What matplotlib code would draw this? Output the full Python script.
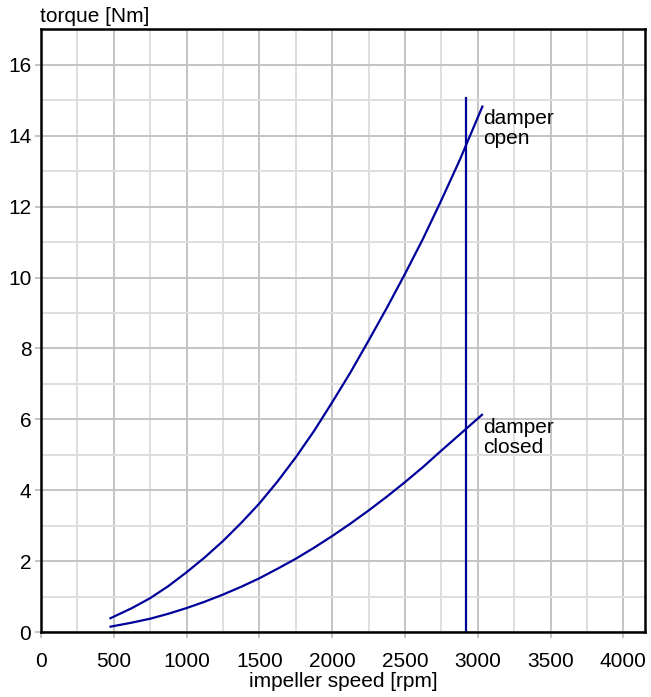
import numpy as np
import matplotlib.pyplot as plt

plt.rcParams['font.family'] = ['Liberation Sans', 'DejaVu Sans']

# impeller speed [rpm] / torque [Nm]
speed = [470, 625, 750, 875, 1000, 1125, 1250, 1375, 1500, 1625, 1750,
         1875, 2000, 2125, 2250, 2375, 2500, 2625, 2750, 2875, 3035]
torque_open = [0.38, 0.68, 0.96, 1.3, 1.69, 2.11, 2.57, 3.08, 3.63, 4.25, 4.93,
               5.67, 6.48, 7.32, 8.22, 9.14, 10.1, 11.1, 12.18, 13.3, 14.85]
torque_closed = [0.15, 0.27, 0.38, 0.52, 0.68, 0.86, 1.06, 1.28, 1.52, 1.79, 2.07,
                 2.38, 2.71, 3.06, 3.43, 3.82, 4.23, 4.66, 5.12, 5.57, 6.15]
speed_limit = 2920
limit_top = 15.1

line_color = '#00009a'
fs = 15

fig = plt.figure(figsize=(6.51, 6.97), dpi=100)
ax = fig.add_axes([0.063, 0.093, 0.928, 0.865])

ax.plot(speed, torque_open, color=line_color, lw=1.6, solid_capstyle='butt')
ax.plot(speed, torque_closed, color=line_color, lw=1.6, solid_capstyle='butt')
ax.plot([speed_limit, speed_limit], [0, limit_top], color=line_color, lw=1.6,
        solid_capstyle='butt')

ax.text(speed[-1] + 5, torque_open[-1] - 0.1, 'damper\nopen', fontsize=fs,
        va='top', ha='left', linespacing=1.05)
ax.text(speed[-1] + 5, torque_closed[-1] - 0.12, 'damper\nclosed', fontsize=fs,
        va='top', ha='left', linespacing=1.05)

ax.set_xlim(0, 4150)
ax.set_ylim(0, 17)
ax.set_xticks(np.arange(0, 4001, 500))
ax.set_xticks(np.arange(250, 4150, 500), minor=True)
ax.set_yticks(np.arange(0, 17, 2))
ax.set_yticks(np.arange(1, 17, 2), minor=True)

ax.grid(which='major', color='#c4c4c4', lw=1.4)
ax.grid(which='minor', color='#dedede', lw=1.4)
ax.set_axisbelow(True)

ax.tick_params(which='major', direction='out', length=4, width=1.4,
               color='#c4c4c4', labelsize=fs)
ax.tick_params(axis='x', which='major', pad=10)
ax.tick_params(axis='y', which='major', pad=3)
ax.tick_params(which='minor', length=0)
for s in ax.spines.values():
    s.set_linewidth(1.8)
    s.set_color('black')

fig.text(40 / 651, 1 - 16 / 697, 'torque [Nm]', fontsize=fs, va='center', ha='left')
ax.set_xlabel('impeller speed [rpm]', fontsize=fs, labelpad=1)

fig.savefig('out.png', dpi=100)
